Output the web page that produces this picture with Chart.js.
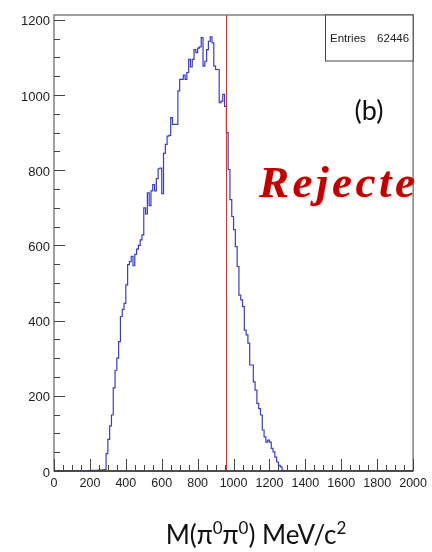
<!DOCTYPE html>
<html>
<head>
<meta charset="utf-8">
<script src="https://cdn.jsdelivr.net/npm/chart.js@4.4.1/dist/chart.umd.min.js"></script>
<style>
  body { margin: 0; background: #fff; }
  canvas { display: block; }
</style>
</head>
<body>
<canvas id="hist" width="432" height="552"></canvas>
<script>
// histogram M(pi0 pi0), 10 MeV bins starting at 200 MeV
const firstBin = 200;
const binWidth = 10;
const counts = [
  1, 0, 2, 1, 2, 2, 3, 2, 3, 4,
  46, 84, 120, 149, 221, 268, 300, 344, 411, 430,
  446, 495, 549, 557, 571, 546, 576, 590, 600, 615,
  628, 700, 684, 740, 706, 745, 762, 745, 778, 804,
  806, 738, 845, 869, 891, 893, 940, 922, 922, 922,
  1011, 1042, 1042, 1053, 1042, 1060, 1095, 1075, 1095, 1121,
  1113, 1125, 1128, 1153, 1077, 1090, 1121, 1143, 1155, 1139,
  1077, 1068, 1068, 980, 984, 1002, 970, 900, 802, 722,
  677, 642, 597, 544, 468, 455, 437, 375, 362, 340,
  282, 282, 237, 215, 180, 166, 149, 109, 91, 77,
  82, 77, 60, 51, 37, 24, 15, 11, 2, 0
];
const xRange = [0, 2000];
const yRange = [0, 1213];
const xTicks = [0, 200, 400, 600, 800, 1000, 1200, 1400, 1600, 1800, 2000];
const yTicks = [0, 200, 400, 600, 800, 1000, 1200];
const cutValue = 960;
const entries = 62446;
// axis title pieces: [text, superscript?]
const xTitle = [["M(\u03C0", false], ["0", true], ["\u03C0", false], ["0", true], [") MeV/c", false], ["2", true]];

// build step points (low edges) over the whole axis
const points = [];
for (let x = xRange[0]; x < xRange[1]; x += binWidth) {
  const i = Math.round((x - firstBin) / binWidth);
  const v = (i >= 0 && i < counts.length) ? counts[i] : 0;
  points.push({ x: x, y: v });
}
points.push({ x: xRange[1], y: 0 });

function drawRuns(ctx, runs, cx, baseline) {
  const big = "26px Lato, 'Open Sans', sans-serif";
  const small = "17px Lato, 'Open Sans', sans-serif";
  let total = 0;
  runs.forEach(([t, sup]) => { ctx.font = sup ? small : big; total += ctx.measureText(t).width; });
  let x = cx - total / 2;
  ctx.textAlign = "left";
  runs.forEach(([t, sup]) => {
    ctx.font = sup ? small : big;
    ctx.fillText(t, x, sup ? baseline - 10 : baseline);
    x += ctx.measureText(t).width;
  });
}

const rootLook = {
  id: "rootLook",
  afterDatasetsDraw(chart) {
    const ctx = chart.ctx;
    const a = chart.chartArea;
    const xs = chart.scales.x;
    const ys = chart.scales.y;
    ctx.save();

    // cut line
    const xc = Math.round(xs.getPixelForValue(cutValue)) + 0.5;
    ctx.strokeStyle = "#e03030";
    ctx.lineWidth = 1;
    ctx.beginPath();
    ctx.moveTo(xc, a.top);
    ctx.lineTo(xc, a.bottom);
    ctx.stroke();

    // frame
    ctx.strokeStyle = "#6e6e6e";
    ctx.lineWidth = 1.3;
    ctx.strokeRect(a.left, a.top, a.right - a.left, a.bottom - a.top);
    ctx.strokeStyle = "#333";
    ctx.beginPath();
    ctx.moveTo(a.left, a.bottom);
    ctx.lineTo(a.right, a.bottom);
    ctx.stroke();

    // inside ticks
    ctx.lineWidth = 1;
    ctx.strokeStyle = "#444";
    ctx.beginPath();
    for (let v = xRange[0]; v <= xRange[1]; v += 50) {
      const px = Math.round(xs.getPixelForValue(v)) + 0.5;
      const len = v % 200 === 0 ? 12 : 6;
      ctx.moveTo(px, a.bottom);
      ctx.lineTo(px, a.bottom - len);
    }
    for (let v = 0; v <= yRange[1]; v += 50) {
      const py = Math.round(ys.getPixelForValue(v)) + 0.5;
      const len = v % 200 === 0 ? 11 : 6;
      ctx.moveTo(a.left, py);
      ctx.lineTo(a.left + len, py);
    }
    ctx.stroke();

    // stats box
    ctx.fillStyle = "#fff";
    ctx.fillRect(325, a.top, a.right - 325, 46);
    ctx.strokeStyle = "#444";
    ctx.strokeRect(325.5, a.top, a.right - 325.5, 46);
    ctx.fillStyle = "#222";
    ctx.font = "11.5px 'Liberation Sans', Arial, sans-serif";
    ctx.textBaseline = "middle";
    ctx.textAlign = "left";
    ctx.fillText("Entries", 330, a.top + 24);
    ctx.textAlign = "right";
    ctx.fillText(String(entries), a.right - 4, a.top + 24);

    // panel label
    ctx.fillStyle = "#111";
    ctx.font = "27px Lato, 'Open Sans', sans-serif";
    ctx.textAlign = "center";
    ctx.textBaseline = "alphabetic";
    ctx.fillText("(b)", 369, 120);

    // stamp
    ctx.fillStyle = "#c00000";
    ctx.font = "bold italic 45px 'Liberation Serif', 'DejaVu Serif', serif";
    ctx.textAlign = "left";
    ctx.letterSpacing = "3.5px";
    ctx.shadowColor = "rgba(0,0,0,0.25)";
    ctx.shadowOffsetX = 1;
    ctx.shadowOffsetY = 1;
    ctx.shadowBlur = 2;
    ctx.fillText("Rejecte", 259, 197);
    ctx.restore();

    // axis title
    ctx.save();
    ctx.fillStyle = "#111";
    ctx.textBaseline = "alphabetic";
    drawRuns(ctx, xTitle, 256, 544);
    ctx.restore();
  }
};

const tickFont = { family: "'Liberation Sans', Arial, sans-serif", size: 13 };

new Chart(document.getElementById("hist"), {
  type: "line",
  data: {
    datasets: [{
      data: points,
      stepped: "after",
      borderColor: "#3c3cc8",
      borderWidth: 1.2,
      pointRadius: 0,
      fill: false,
    }],
  },
  options: {
    responsive: false,
    animation: false,
    events: [],
    layout: { padding: { left: 0, right: 17, top: 15, bottom: 0 } },
    plugins: { legend: { display: false }, tooltip: { enabled: false } },
    scales: {
      x: {
        type: "linear",
        min: xRange[0],
        max: xRange[1],
        grid: { display: false, drawTicks: false },
        border: { display: false },
        afterBuildTicks: (s) => { s.ticks = xTicks.map((v) => ({ value: v })); },
        afterFit: (s) => { s.height = 81; },
        ticks: {
          maxRotation: 0,
          autoSkip: false,
          padding: 5,
          color: "#222",
          font: { family: tickFont.family, size: 12.5 },
          callback: (v) => String(v),
        },
      },
      y: {
        min: yRange[0],
        max: yRange[1],
        grid: { display: false, drawTicks: false },
        border: { display: false },
        afterBuildTicks: (s) => { s.ticks = yTicks.map((v) => ({ value: v })); },
        afterFit: (s) => { s.width = 54; },
        ticks: {
          autoSkip: false,
          padding: 4,
          labelOffset: 2,
          color: "#222",
          font: tickFont,
          callback: (v) => String(v),
        },
      },
    },
  },
  plugins: [rootLook],
});
</script>
</body>
</html>
